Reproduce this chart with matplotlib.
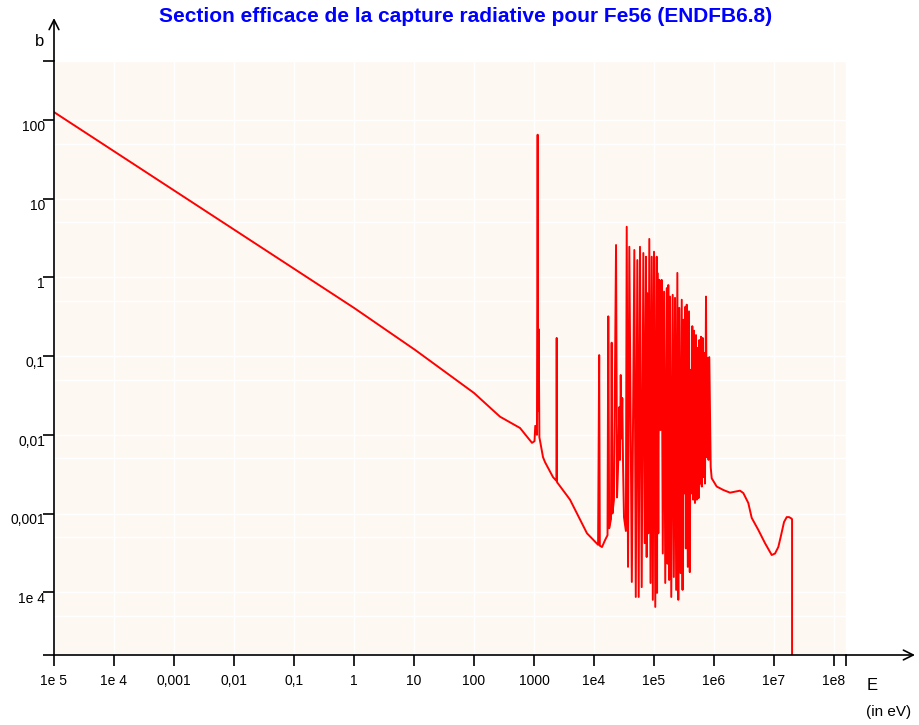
import matplotlib
matplotlib.use("Agg")
import matplotlib.pyplot as plt
import numpy as np

# capture cross section of Fe56 (E in eV, sigma in barn)
e_low = [1e-5, 1.0, 10.4, 100, 271, 585, 926, 1020, 1050, 1120, 1150, 1175, 1197, 1230,
         1413, 1525, 2073, 2360, 2390, 2420, 3981, 7640, 11700, 12200, 12500, 13600,
         15300, 16800, 17300, 17900, 19200, 19700, 20300, 21500, 23300, 24200, 25400,
         26400, 27100, 27900, 28800, 29600, 30500, 31600, 34000]
xs_low = [126, 0.41, 0.12, 0.034, 0.017, 0.0122, 0.0079, 0.0083, 0.013, 0.010, 65, 0.02, 0.22, 0.0093,
          0.0052, 0.0045, 0.0029, 0.0026, 0.17, 0.0025, 0.0015, 5.6e-4, 4.0e-4, 0.103, 3.9e-4, 3.75e-4,
          4.6e-4, 5.3e-4, 0.32, 6.5e-4, 8.5e-4, 0.148, 1.0e-3, 1.5e-3, 2.58, 1.6e-3, 4.8e-3,
          0.0225, 4.8e-3, 0.0575, 0.009, 0.0294, 4.0e-3, 9.0e-4, 6.0e-4]

# resonance forest (keV): tops of the peaks and bottoms between them
peak_e = [35.1, 38.8, 47.0, 52.7, 58.4, 66.4, 73.6, 77.3, 83.5, 91.6,
          100, 111, 114, 122, 134, 147, 163, 173, 185, 205,
          224, 245, 264, 290, 308, 329, 351, 383, 409, 435,
          464, 501, 535, 569, 607, 648, 681, 736, 785, 835]
peak_xs = [4.4, 2.45, 2.23, 1.66, 2.45, 2.04, 1.83, 0.63, 3.08, 1.83,
           2.12, 1.83, 1.14, 0.93, 0.93, 0.66, 0.73, 0.80, 0.57, 0.60,
           0.55, 1.14, 0.41, 0.52, 0.29, 0.42, 0.45, 0.37, 0.067, 0.24,
           0.21, 0.185, 0.127, 0.16, 0.176, 0.17, 0.11, 0.57, 0.095, 0.097]
valley_e = [36.9, 42.7, 49.7, 55.6, 62.4, 70.0, 75.5, 80.4, 87.5, 95.5,
            105, 112.5, 118, 128, 140, 154, 168, 179, 194, 214,
            234, 254, 277, 299, 319, 339, 366, 395, 422, 450,
            482, 517, 552, 589, 626, 663, 708, 759, 810, 881]
valley_xs = [2.1e-4, 1.35e-4, 8.7e-5, 8.7e-5, 1.16e-4, 4.2e-4, 2.8e-4, 5.6e-4, 1.31e-4, 8.0e-5,
             6.5e-5, 9.8e-5, 5.6e-4, 0.0115, 3.1e-4, 1.31e-4, 2.3e-4, 1.43e-4, 8.7e-5, 1.56e-4,
             1.07e-4, 8.0e-5, 1.75e-4, 1.07e-4, 1.8e-3, 3.6e-4, 2.1e-4, 1.8e-4, 1.8e-3, 1.5e-3,
             1.36e-3, 1.5e-3, 1.57e-3, 2.4e-3, 2.2e-3, 2.9e-3, 2.4e-3, 5.2e-3, 4.8e-3, 3.9e-3]

e_high = [916e3, 1.11e6, 1.43e6, 1.85e6, 2.71e6, 3.08e6, 3.73e6, 4.25e6, 5.47e6, 7.08e6,
          9.16e6, 10.4e6, 11.8e6, 12.9e6, 14.7e6, 16.3e6, 17.8e6, 19.7e6, 2.0e7, 2.0e7]
xs_high = [2.8e-3, 2.2e-3, 1.99e-3, 1.84e-3, 1.95e-3, 1.82e-3, 1.36e-3, 8.8e-4, 6.2e-4, 4.2e-4,
           2.97e-4, 3.1e-4, 3.75e-4, 5.0e-4, 7.8e-4, 9.0e-4, 9.0e-4, 8.6e-4, 8.4e-4, 1e-9]

x_ticks = [1e-5, 1e-4, 1e-3, 1e-2, 1e-1, 1, 10, 100, 1000, 1e4, 1e5, 1e6, 1e7, 1e8]
x_labels = ["1e 5", "1e 4", "0,001", "0,01", "0,1", "1", "10", "100", "1000",
            "1e4", "1e5", "1e6", "1e7", "1e8"]
y_ticks = [1e-4, 1e-3, 1e-2, 1e-1, 1, 10, 100]
y_labels = ["1e 4", "0,001", "0,01", "0,1", "1", "10", "100"]
y_grid5 = [5e-5, 5e-4, 5e-3, 5e-2, 0.5, 5, 50]

title = "Section efficace de la capture radiative pour Fe56 (ENDFB6.8)"

plt.rcParams["font.family"] = ["Liberation Sans", "DejaVu Sans"]
plt.rcParams["ytick.alignment"] = "top"

E = list(e_low)
S = list(xs_low)
for pe, ps, ve, vs in zip(peak_e, peak_xs, valley_e, valley_xs):
    E += [pe * 1e3, ve * 1e3]
    S += [ps, vs]
E += e_high
S += xs_high

W, H = 920, 725
fig = plt.figure(figsize=(W / 100, H / 100), dpi=100)
ax = fig.add_axes([54 / W, (H - 655) / H, 792 / W, 594 / H])
ax.set_facecolor("#fef8f3")
ax.set_xscale("log")
ax.set_yscale("log")
xmax = 10 ** 8.2
ymin, ymax = 10 ** (2 - 535 / 78.7), 10 ** (2 + 59 / 78.7)
ax.set_xlim(1e-5, xmax)
ax.set_ylim(ymin, ymax)

ax.plot(E, S, color="#ff0000", lw=1.4)

ax.set_xticks(x_ticks + [xmax], x_labels + [""])
ax.set_yticks([ymin] + y_ticks + [ymax], [""] + y_labels + [""])
ax.set_xticks([], minor=True)
ax.set_yticks(y_grid5, minor=True)
ax.tick_params(which="minor", length=0)
ax.tick_params(which="major", direction="out", length=8, width=1.2, labelsize=10)
ax.tick_params(axis="x", pad=6)
ax.tick_params(axis="y", pad=-1.5)
ax.set_axisbelow(True)
ax.grid(True, which="both", axis="y", color="white", lw=1)
ax.grid(True, which="major", axis="x", color="white", lw=1)

for s in ["top", "right"]:
    ax.spines[s].set_visible(False)
for s in ["left", "bottom"]:
    ax.spines[s].set_linewidth(1.2)

arrow = dict(arrowstyle="->,head_length=0.7,head_width=0.35", lw=1.2, color="black",
             shrinkA=0, shrinkB=0)
ax.annotate("", xy=(0, 1 + 43 / 594), xytext=(0, 1), xycoords="axes fraction",
            arrowprops=arrow, annotation_clip=False)
ax.annotate("", xy=((915 - 54) / 792, 0), xytext=(1, 0), xycoords="axes fraction",
            arrowprops=arrow, annotation_clip=False)

fig.text(40 / W, 1 - 41 / H, "b", ha="center", va="center", fontsize=12)
fig.text(872 / W, 1 - 686 / H, "E", ha="center", va="center", fontsize=12)
fig.text(889 / W, 1 - 712 / H, "(in eV)", ha="center", va="center", fontsize=11)
fig.text(466 / W, 1 - 17 / H, title, ha="center", va="center", color="#0000ff",
         fontweight="bold", fontsize=15)

fig.savefig("out.png", dpi=100)
